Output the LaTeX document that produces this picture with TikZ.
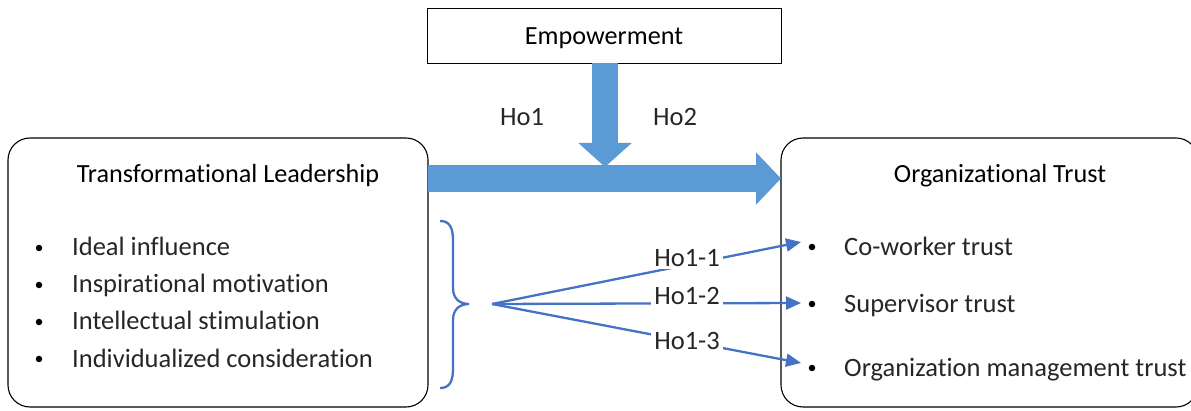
\documentclass[tikz,border=0pt]{standalone}
\usepackage{fontspec}
\setmainfont{Carlito}[Ligatures=NoCommon]
\usetikzlibrary{arrows.meta}
\definecolor{bigblue}{HTML}{5B9BD5}
\definecolor{thinblue}{HTML}{4472C4}
\definecolor{itemtext}{HTML}{262626}
\begin{document}
\begin{tikzpicture}[x=1pt,y=-1pt,
  txt/.style={font=\fontsize{26.5}{31}\selectfont, inner sep=0pt, text=itemtext},
  ttl/.style={font=\fontsize{26.2}{31}\selectfont, inner sep=0pt, text=black},
  boxline/.style={draw=black, line width=1.1pt},
  bigarrow/.style={draw=bigblue, line width=27pt, -{Triangle[length=25pt,width=51pt]}},
  thinarrow/.style={draw=thinblue, line width=2.3pt, -{Triangle[length=15pt,width=13pt]}},
  hlabel/.style={txt, fill=white, inner xsep=3pt, inner ysep=2pt},
  bulletdot/.style={circle, fill=black, inner sep=0pt, minimum size=6.5pt}
]
\useasboundingbox (0,0) rectangle (1191,411);
\clip (0,0) rectangle (1191,411);

% boxes
\node[boxline, rectangle, minimum width=354pt, minimum height=55pt, anchor=north west, inner sep=0pt] (emp) at (427,8) {};
\node[ttl, anchor=base] (emptxt) at (604,45) {Empowerment};

\draw[boxline, rounded corners=22pt] (8,138) rectangle (428,407);
\draw[boxline, rounded corners=22pt] (781,138) rectangle (1198,407);

% titles
\node[ttl, anchor=base] (tltitle) at (228,183) {Transformational Leadership};
\node[ttl, anchor=base] (ottitle) at (1000,183) {Organizational Trust};

% big arrows
\coordinate (hA) at (428,178.5);
\coordinate (hB) at (781,178.5);
\coordinate (vA) at (605,63);
\coordinate (vB) at (605,167);
\draw[bigarrow] (hA) -- (hB);
\draw[bigarrow, line width=26pt, -{Triangle[length=24pt,width=52pt]}] (vA) -- (vB);

\node[txt, anchor=base] (ho1) at (522,126) {Ho1};
\node[txt, anchor=base] (ho2) at (675,126) {Ho2};

% left items
\node[bulletdot] (lb1) at (39,248) {};
\node[bulletdot] (lb2) at (39,285) {};
\node[bulletdot] (lb3) at (39,322) {};
\node[bulletdot] (lb4) at (39,359) {};
\node[txt, anchor=base west] (li1) at (72,256) {Ideal influence};
\node[txt, anchor=base west] (li2) at (72,293) {Inspirational motivation};
\node[txt, anchor=base west] (li3) at (72,330) {Intellectual stimulation};
\node[txt, anchor=base west] (li4) at (72,367) {Individualized consideration};

% right items
\node[bulletdot] (rb1) at (812,247) {};
\node[bulletdot] (rb2) at (812,304) {};
\node[bulletdot] (rb3) at (812,368) {};
\node[txt, anchor=base west] (ri1) at (844,256) {Co-worker trust};
\node[txt, anchor=base west] (ri2) at (844,313) {Supervisor trust};
\node[txt, anchor=base west] (ri3) at (844,377) {Organization management trust};

% brace
\draw[thinblue, line width=2.3pt]
  (440,221) .. controls (450,221) and (453,228) .. (453,241)
  -- (453,288) .. controls (453,299) and (460,304) .. (469,304)
  .. controls (460,304) and (453,309) .. (453,320)
  -- (453,368) .. controls (453,381) and (450,388) .. (440,388);

% fan arrows
\coordinate (fan) at (492,304);
\coordinate (t1) at (801,242);
\coordinate (t2) at (801,303);
\coordinate (t3) at (801,363);
\draw[thinarrow] (fan) -- (t1);
\draw[thinarrow] (fan) -- (t2);
\draw[thinarrow] (fan) -- (t3);

\node[hlabel, anchor=base] (h11) at (687,267) {Ho1-1};
\node[hlabel, anchor=base] (h12) at (687,305) {Ho1-2};
\node[hlabel, anchor=base] (h13) at (687,350) {Ho1-3};
\end{tikzpicture}
\end{document}
